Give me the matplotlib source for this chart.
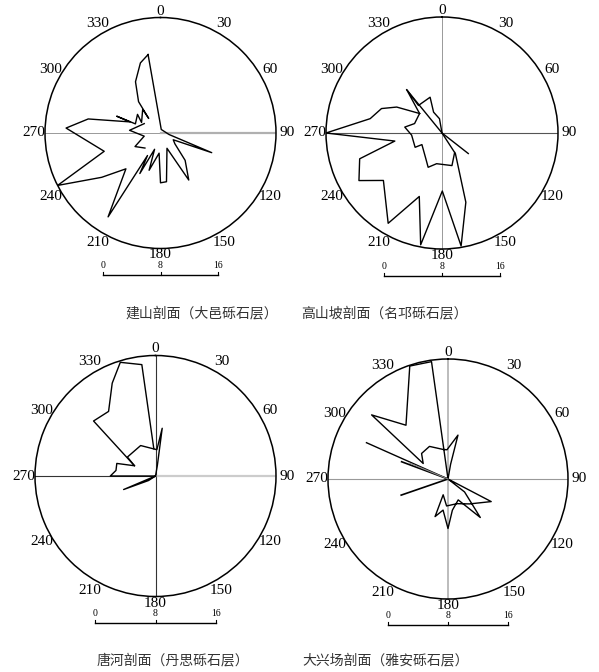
import numpy as np
import matplotlib
matplotlib.use('Agg')
import matplotlib.pyplot as plt

# ── Panel data: (azimuth deg, radius) vertices of each rose outline ──
# 建山剖面
JS_AZ = [351, 12, 100, 111, 118, 127, 138, 149, 157, 173, 180, 184, 197, 200,
         207, 210, 212, 224, 233, 243, 252, 273, 281, 290, 291, 290, 309, 299,
         323, 321, 325, 334, 344, 351]
JS_R = [11.0, 0.5, 1.2, 7.6, 2.0, 2.5, 5.1, 7.6, 2.3, 6.8, 6.9, 2.8, 5.4, 2.4,
        6.3, 3.6, 13.7, 6.9, 10.2, 16.0, 8.2, 13.1, 10.2, 4.5, 6.5, 3.7, 4.1, 3.0,
        4.1, 2.6, 5.3, 7.9, 10.1, 11.0]
JS_IN_AZ = [300, 275, 259, 242, 226]
JS_IN_R = [2.6, 4.3, 2.3, 4.0, 3.0]

# 高山坡剖面
GS_AZ = [0, 147, 161, 170.4, 179.7, 190.8, 199.7, 210.8, 231, 240.2, 252.6,
         260.3, 270, 281.3, 292, 299.8, 311]
GS_R = [0, 3.4, 10.1, 15.8, 8.0, 15.7, 9.3, 14.5, 10.4, 13.2, 11.9,
        6.6, 16.0, 10.1, 9.0, 7.2, 4.1]
GS_IN_AZ = [311, 289, 279, 266, 242, 240, 212, 202, 190, 163, 147]
GS_IN_R = [4.1, 4.0, 5.2, 4.2, 4.2, 3.2, 4.2, 5.1, 4.3, 4.7, 3.2]
GS_STAR_AZ = [311, 320.8, 319.5, 341.6, 338, 350, 0]
GS_STAR_R = [4.1, 7.7, 5.0, 5.2, 3.1, 2.0, 0]
GS_LINE_AZ = [320.8, 0, 128]
GS_LINE_R = [7.7, 0, 4.6]

# 唐河剖面
TH_AZ = [90, 270, 278, 288, 296, 311.6, 324, 335, 342.8, 353, 356.5, 3, 8, 10, 0]
TH_R = [0, 6.0, 5.3, 5.4, 3.1, 11.0, 10.6, 13.6, 15.8, 14.9, 3.6, 3.5, 6.4, 1.4, 0]
TH_LOOP_AZ = [296, 304, 334, 356.5]
TH_LOOP_R = [3.1, 4.5, 4.5, 3.6]
TH_WEDGE_AZ = [0, 247, 237, 0]
TH_WEDGE_R = [0, 4.6, 1.1, 0]

# 大兴场剖面
DX_A_AZ = [0, 352, 341.3, 322, 310, 302, 314, 330.4, 350.4, 358, 12.8, 10, 0]
DX_A_R = [0, 15.8, 15.9, 9.1, 13.3, 3.9, 4.9, 5.0, 4.0, 3.9, 6.0, 2.0, 0]
DX_B_AZ = [294, 0, 117.6, 139, 160, 183, 197, 199, 189, 180, 172, 154, 140, 128, 0]
DX_B_R = [11.9, 0, 6.5, 4.4, 3.5, 3.6, 2.2, 5.3, 4.2, 6.6, 4.2, 3.1, 6.7, 2.8, 0]
DX_C_AZ = [290.4, 0, 251]
DX_C_R = [6.6, 0, 6.6]
DX_D_AZ = [292.5, 0]
DX_D_R = [5.6, 0]

ANGLES = list(range(0, 360, 30))
SCALE_TICKS = [0, 8, 16]
RMAX = 16

TITLES = ['建山剖面（大邑砾石层）', '高山坡剖面（名邛砾石层）',
          '唐河剖面（丹思砾石层）', '大兴场剖面（雅安砾石层）']

W, H = 599, 672
fig = plt.figure(figsize=(W / 100, H / 100), dpi=100)
fig.patch.set_facecolor('white')

# overlay in pixel coordinates for scale bars and captions
ov = fig.add_axes([0, 0, 1, 1])
ov.set_xlim(0, W)
ov.set_ylim(H, 0)
ov.axis('off')

# (center x, center y, radius px), scale bar y, caption (x, y)
panels = [
    ((160.5, 133, 115.5), 275, (202, 313)),
    ((442, 133, 116), 276, (384, 313)),
    ((155.5, 476, 120.5), 623, (173, 660)),
    ((448, 479, 120), 625, (386, 660)),
]

NUM_FONT = 'Liberation Serif'


def make_polar(cx, cy, rp):
    ax = fig.add_axes([(cx - rp) / W, (H - cy - rp) / H, 2 * rp / W, 2 * rp / H],
                      projection='polar')
    ax.set_theta_zero_location('N')
    ax.set_theta_direction(-1)
    ax.set_ylim(0, RMAX)
    ax.grid(False)
    ax.set_xticks([])
    ax.set_yticks([])
    ax.spines['polar'].set_linewidth(1.1)
    ax.patch.set_alpha(0)
    for a in ANGLES:
        r = 16.9 if a in (0, 180) else 17.5
        ax.text(np.deg2rad(a), r, str(a), ha='center', va='center',
                fontsize=11, family=NUM_FONT, clip_on=False)
    return ax


def cross(ax, az, color, lw):
    ax.plot(np.deg2rad([az, az]), [0, RMAX], color=color, lw=lw, zorder=1)


def outline(ax, az, r, color='black', lw=1.0):
    ax.plot(np.deg2rad(az), r, color=color, lw=lw, zorder=3)


axes = [make_polar(*p[0]) for p in panels]

# 建山
ax = axes[0]
cross(ax, 270, '#999999', 0.7)
cross(ax, 90, '#b0b0b0', 1.6)
outline(ax, JS_AZ, JS_R)
outline(ax, JS_IN_AZ, JS_IN_R)

# 高山坡
ax = axes[1]
for a in (0, 180):
    cross(ax, a, '#999999', 0.7)
for a in (90, 270):
    cross(ax, a, '#555555', 0.8)
outline(ax, GS_AZ, GS_R)
outline(ax, GS_IN_AZ, GS_IN_R)
outline(ax, GS_STAR_AZ, GS_STAR_R)
outline(ax, GS_LINE_AZ, GS_LINE_R)

# 唐河
ax = axes[2]
for a in (0, 180, 270):
    cross(ax, a, '#333333', 0.8)
cross(ax, 90, '#cccccc', 1.6)
outline(ax, TH_AZ, TH_R)
outline(ax, TH_LOOP_AZ, TH_LOOP_R)
outline(ax, TH_WEDGE_AZ, TH_WEDGE_R)

# 大兴场
ax = axes[3]
for a in (0, 180):
    cross(ax, a, '#aaaaaa', 1.1)
for a in (90, 270):
    cross(ax, a, '#999999', 0.8)
outline(ax, DX_A_AZ, DX_A_R)
outline(ax, DX_B_AZ, DX_B_R)
outline(ax, DX_C_AZ, DX_C_R, lw=1.2)
outline(ax, DX_D_AZ, DX_D_R, color='#888888', lw=0.8)

# scale bars and captions
for ((cx, cy, rp), by, (tx, ty)), title in zip(panels, TITLES):
    x0 = cx - rp / 2
    ov.plot([x0, x0 + rp], [by, by], color='black', lw=1.0)
    for t in SCALE_TICKS:
        xt = x0 + rp * t / RMAX
        ov.plot([xt, xt], [by, by - 3], color='black', lw=0.8)
        ov.text(xt, by - 5, str(t), ha='center', va='bottom', fontsize=7,
                family=NUM_FONT)
    ov.text(tx, ty, title, ha='center', va='center', fontsize=10,
            color='#333333', family=['Noto Sans CJK SC', 'DejaVu Sans'])

fig.savefig('out.png', dpi=100, facecolor='white')
